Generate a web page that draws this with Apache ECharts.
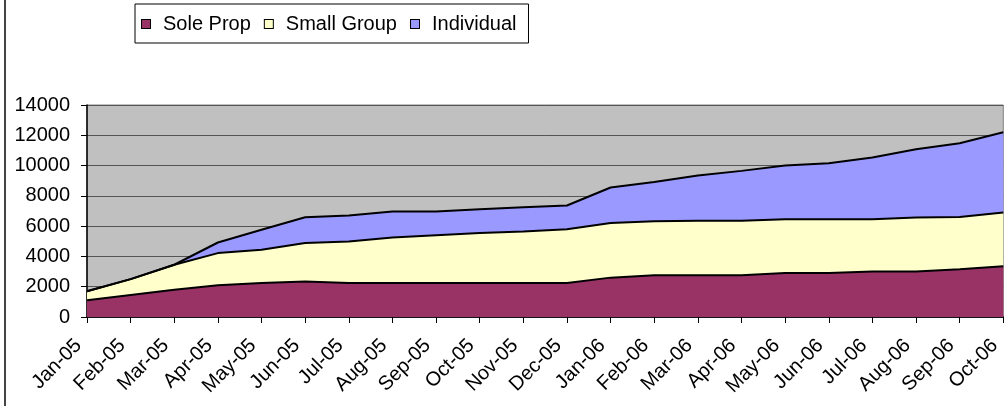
<!DOCTYPE html>
<html>
<head>
<meta charset="utf-8">
<script src="https://cdn.jsdelivr.net/npm/echarts@6/dist/echarts.min.js"></script>
<style>
html,body{margin:0;padding:0;background:#fff;}
#chart{width:1004px;height:406px;}
</style>
</head>
<body>
<div id="chart"></div>
<script>
const categories = ['Jan-05','Feb-05','Mar-05','Apr-05','May-05','Jun-05','Jul-05','Aug-05','Sep-05','Oct-05','Nov-05','Dec-05',
  'Jan-06','Feb-06','Mar-06','Apr-06','May-06','Jun-06','Jul-06','Aug-06','Sep-06','Oct-06'];
const soleProp = [1100,1450,1800,2100,2250,2350,2250,2250,2250,2250,2250,2250,2600,2750,2750,2750,2900,2900,3000,3000,3150,3350];
const smallGroup = [600,1050,1650,2120,2190,2530,2740,3000,3150,3290,3400,3550,3600,3580,3600,3600,3560,3560,3460,3570,3460,3550];
const individual = [0,0,0,700,1320,1710,1710,1715,1565,1580,1600,1560,2350,2590,2990,3300,3540,3690,4070,4510,4860,5300];
const yTicks = {min:0, max:14000, interval:2000};
const seriesNames = ['Sole Prop','Small Group','Individual'];
const seriesColors = ['#993366','#FFFFCC','#9999FF'];

const FONT = 'Liberation Sans, Arial, sans-serif';
const chart = echarts.init(document.getElementById('chart'), null, {renderer:'canvas'});

function areaSeries(i, data){
  return {
    name:seriesNames[i], type:'line', stack:'total', data,
    symbol:'none', smooth:false,
    lineStyle:{color:'#000', width:2},
    itemStyle:{color:seriesColors[i]},
    areaStyle:{color:seriesColors[i], opacity:1}
  };
}

const legendRich = {t:{fontSize:20, color:'#000', fontFamily:FONT, padding:[0,0,0,13]}};
seriesColors.forEach((c,i)=>{
  legendRich['b'+i] = {width:8, height:8, backgroundColor:c, borderColor:'#000', borderWidth:1};
});

chart.setOption({
  animation:false,
  backgroundColor:'#fff',
  textStyle:{fontFamily:FONT},
  graphic:[{type:'line', shape:{x1:5,y1:0,x2:5,y2:406}, style:{stroke:'#444', lineWidth:2}}],
  legend:{
    left:135, top:4,
    padding:[10,12,9,2],
    itemGap:9,
    itemWidth:0, itemHeight:0,
    icon:'rect',
    borderColor:'#000', borderWidth:1,
    backgroundColor:'#fff',
    textStyle:{fontSize:20, color:'#000', fontFamily:FONT, rich:legendRich},
    formatter:(name)=>'{b'+seriesNames.indexOf(name)+'|}{t|'+name+'}',
    data:seriesNames
  },
  grid:{left:87, top:105, right:-7, bottom:89, show:true, backgroundColor:'#C0C0C0', borderColor:'#808080', borderWidth:1, containLabel:false},
  xAxis:{
    type:'category', data:categories, boundaryGap:false,
    axisLine:{lineStyle:{color:'#000', width:1.5}},
    axisTick:{show:true, length:6, lineStyle:{color:'#000'}},
    axisLabel:{rotate:45, margin:17, fontSize:20, color:'#000', fontFamily:FONT, interval:0, padding:[0,12,0,0]},
    splitLine:{show:false}
  },
  yAxis:{
    type:'value', min:yTicks.min, max:yTicks.max, interval:yTicks.interval,
    axisLine:{show:true, lineStyle:{color:'#000', width:1.5}},
    axisTick:{show:true, length:6, lineStyle:{color:'#000'}},
    axisLabel:{margin:17, fontSize:20, color:'#000', fontFamily:FONT, formatter:(v)=>String(v)},
    splitLine:{show:true, lineStyle:{color:'#555', width:1}}
  },
  series:[
    areaSeries(0, soleProp),
    areaSeries(1, smallGroup),
    areaSeries(2, individual)
  ]
});
</script>
</body>
</html>
